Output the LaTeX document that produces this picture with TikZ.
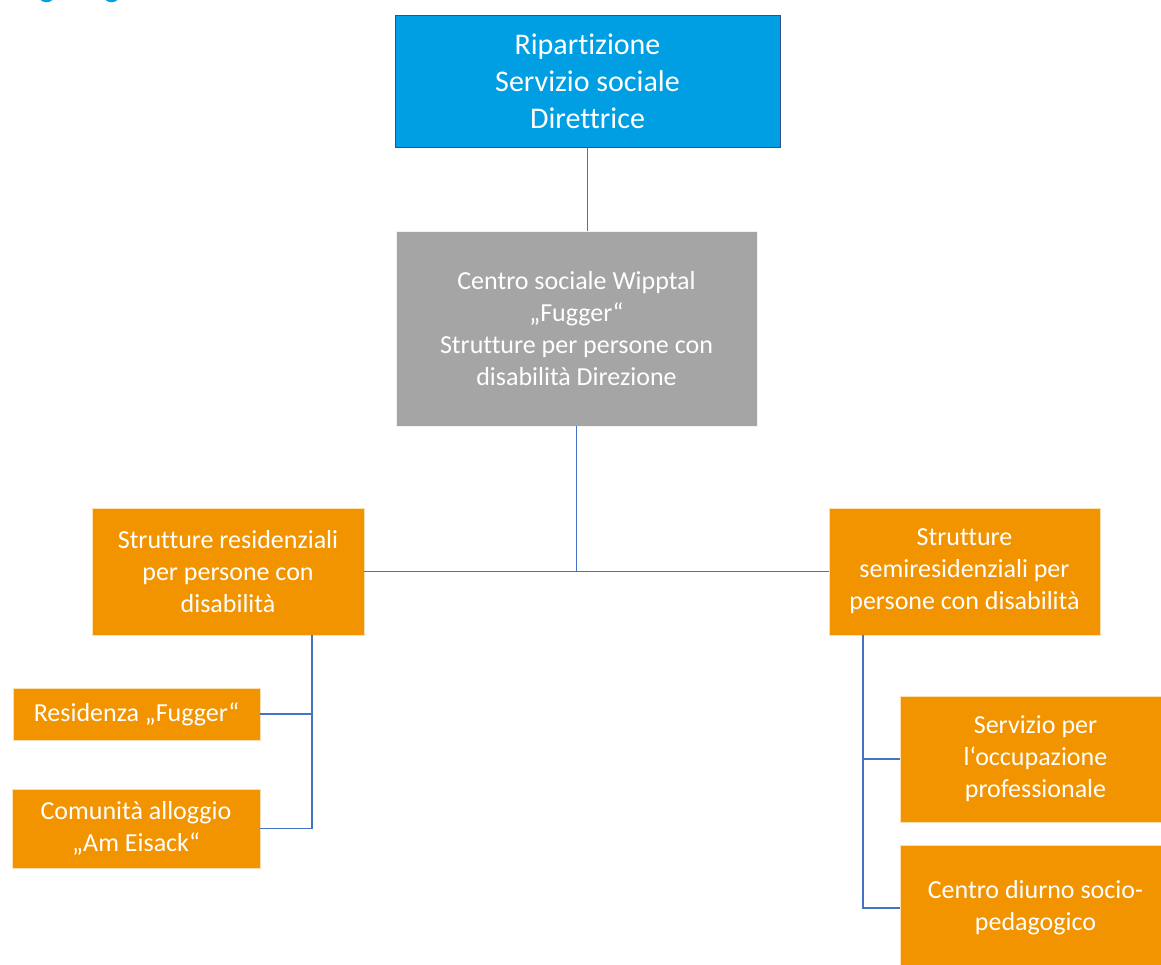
\documentclass[tikz,border=0pt]{standalone}
\usepackage{fontspec}
\setmainfont{Carlito}[Ligatures={NoCommon}]
\usetikzlibrary{positioning}

\definecolor{headblue}{HTML}{009FE3}
\definecolor{leadgray}{HTML}{A5A5A5}
\definecolor{unitorange}{HTML}{F29400}
\definecolor{linkblue}{HTML}{4472C4}

\begin{document}
\begin{tikzpicture}[
        x=1pt, y=-1pt,
        box/.style={rectangle, text=white, align=center, inner sep=0pt},
        headbox/.style={box, fill=headblue, draw=linkblue!70!black, line width=1pt,
            font=\fontsize{30}{37}\selectfont},
        leadbox/.style={box, fill=leadgray, draw=white!85!leadgray, line width=0.8pt,
            font=\fontsize{26}{32}\selectfont},
        unitbox/.style={box, fill=unitorange, draw=white!70!unitorange, line width=0.8pt,
            font=\fontsize{26}{32}\selectfont},
        link/.style={draw=linkblue, line width=1.8pt},
    ]
    \useasboundingbox (0,0) rectangle (1161,964);

    % cut off marks at the top edge
    \foreach \cx in {46.5,111.5}{
            \draw [headblue, line width=2.5pt] (\cx,-7) circle (8);
        }

    \node [headbox, minimum width=385, minimum height=132] (dept) at (587.5,81)
        {Ripartizione\\Servizio sociale\\Direttrice};
    \node [leadbox, minimum width=361, minimum height=195] (centre) at (576.5,328.5)
        {Centro sociale Wipptal\\„Fugger“\\Strutture per persone con\\disabilità Direzione};

    \node [unitbox, minimum width=272, minimum height=127] (resid) at (228,571.5)
        {Strutture residenziali\\per persone con\\disabilità};
    \node [unitbox, minimum width=271, minimum height=127] (semi) at (964.5,571.5)
        {Strutture\\semiresidenziali per\\persone con disabilità};

    \node [unitbox, minimum width=247, minimum height=52] (fugger) at (136.5,714)
        {Residenza „Fugger“};
    \node [unitbox, minimum width=248, minimum height=79] (eisack) at (136,828.5)
        {Comunità alloggio\\„Am Eisack“};

    \node [unitbox, minimum width=271, minimum height=126] (occup) at (1035.5,759)
        {Servizio per\\l‘occupazione\\professionale};
    \node [unitbox, minimum width=271, minimum height=126] (diurno) at (1035.5,908)
        {Centro diurno socio-\\pedagogico};

    % connectors
    \draw [link] (dept.south) -- (dept.south |- centre.north);
    \draw [link] (centre.south) -- (centre.south |- resid.east);
    \draw [link] (resid.east) -- (semi.west);

    \coordinate (lbus) at (312,635);
    \draw [link] (lbus) |- (eisack.east);
    \draw [link] (fugger.east) -- (fugger.east -| lbus);

    \coordinate (rbus) at (863,635);
    \draw [link] (rbus) |- (diurno.west);
    \draw [link] (occup.west) -- (occup.west -| rbus);
\end{tikzpicture}
\end{document}
